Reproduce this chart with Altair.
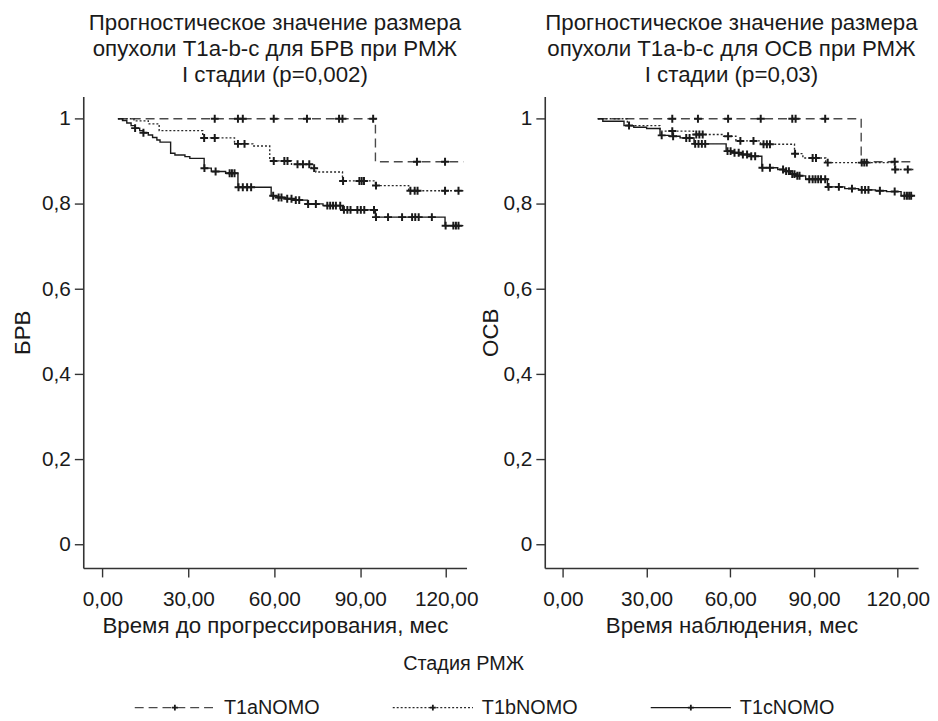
import altair as alt
import numpy as np
import pandas as pd

FONT = "Liberation Sans, Arial, Helvetica, sans-serif"
SERIES = ["T1aNOMO", "T1bNOMO", "T1cNOMO"]
X_TICKS = [0, 30, 60, 90, 120]
Y_TICKS = [0, 0.2, 0.4, 0.6, 0.8, 1.0]

# ---------- Left panel: БРВ (step times, survival after step, censor times) ----------
BRV_A_T = [5.4, 95.3, 126.0]
BRV_A_S = [1.0, 0.899, 0.899]
BRV_A_C = [39.2, 47.3, 49.0, 59.8, 71.4, 82.6, 83.8, 94.5, 109.8, 119.6]

BRV_B_T = [5.4, 11.0, 16.0, 19.8, 35.0, 46.1, 52.5, 58.4, 66.0, 73.0, 74.5, 83.8, 95.3, 106.9, 126.0]
BRV_B_S = [1.0, 0.995, 0.988, 0.972, 0.955, 0.941, 0.936, 0.901, 0.893, 0.884, 0.875, 0.854, 0.843, 0.831, 0.831]
BRV_B_C = [35.5, 39.2, 47.3, 49.6, 59.8, 63.5, 64.6, 68.1, 70.0, 72.2, 73.9, 84.0, 89.7, 90.5,
           91.3, 95.5, 107.5, 109.0, 110.0, 119.6, 124.3]

BRV_C_T = [5.4, 7.0, 8.5, 10.0, 11.4, 13.0, 14.3, 16.0, 17.5, 19.0, 20.1, 23.8, 25.3, 28.8, 30.5,
           35.5, 38.0, 43.0, 47.3, 58.9, 61.0, 64.0, 66.5, 71.6, 77.0, 83.8, 95.3, 119.6, 126.0]
BRV_C_S = [1.0, 0.996, 0.990, 0.984, 0.978, 0.972, 0.967, 0.962, 0.956, 0.950, 0.945, 0.919, 0.915,
           0.911, 0.907, 0.884, 0.876, 0.872, 0.839, 0.819, 0.815, 0.812, 0.809, 0.800, 0.796, 0.786,
           0.769, 0.749, 0.749]
BRV_C_C = [11.4, 14.3, 35.6, 39.5, 44.4, 45.2, 46.1, 47.5, 49.0, 50.5, 51.9, 59.6, 61.5, 62.5, 64.5,
           66.0, 67.5, 68.7, 71.8, 74.5, 78.5, 79.5, 80.5, 81.5, 83.0, 84.3, 85.5, 86.6, 89.0, 90.2,
           91.4, 94.8, 95.5, 99.7, 104.6, 108.1, 109.2, 110.4, 115.0, 119.8, 122.5, 123.4, 124.3]

# ---------- Right panel: ОСВ ----------
OSV_A_T = [12.5, 106.9, 125.6]
OSV_A_S = [1.0, 0.899, 0.899]
OSV_A_C = [39.2, 48.4, 59.2, 70.9, 82.2, 83.4, 94.0, 118.9]

OSV_B_T = [12.5, 23.1, 34.8, 46.8, 57.0, 62.0, 70.8, 83.0, 86.0, 94.2, 118.9, 125.6]
OSV_B_S = [1.0, 0.984, 0.971, 0.963, 0.959, 0.948, 0.940, 0.918, 0.908, 0.897, 0.881, 0.881]
OSV_B_C = [39.2, 47.8, 48.9, 50.1, 59.2, 63.6, 68.3, 71.9, 73.1, 74.2, 83.2, 89.5, 90.7, 94.9,
           107.1, 108.0, 108.9, 119.1, 123.6]

OSV_C_T = [12.5, 14.3, 21.9, 25.4, 30.0, 34.8, 38.0, 42.0, 47.0, 58.5, 61.0, 64.0, 67.0, 71.3, 77.0,
           79.0, 81.5, 83.5, 87.0, 94.8, 101.0, 106.0, 112.0, 116.0, 121.2, 125.6]
OSV_C_S = [1.0, 0.994, 0.984, 0.980, 0.977, 0.961, 0.959, 0.955, 0.941, 0.924, 0.920, 0.916, 0.912,
           0.885, 0.881, 0.877, 0.870, 0.866, 0.858, 0.840, 0.836, 0.833, 0.831, 0.829, 0.819, 0.819]
OSV_C_C = [23.7, 35.4, 39.5, 44.2, 45.4, 47.4, 48.6, 49.8, 51.0, 59.0, 60.1, 61.5, 63.0, 64.5, 66.0,
           67.5, 68.9, 71.5, 74.2, 78.9, 80.0, 81.0, 82.2, 83.0, 84.0, 84.8, 88.3, 89.5, 90.5, 91.5,
           92.5, 94.0, 95.2, 98.9, 103.6, 107.1, 108.3, 109.5, 113.6, 118.9, 122.4, 123.3, 124.1, 124.8]

TITLE_L = ["Прогностическое значение размера", "опухоли T1a-b-c для БРВ при РМЖ", "I стадии (p=0,002)"]
TITLE_R = ["Прогностическое значение размера", "опухоли T1a-b-c для ОСВ при РМЖ", "I стадии (p=0,03)"]
LEGEND_TITLE = "Стадия РМЖ"

PLUS = "M-1,0H1M0,-1V1"
DASHES = [[9, 5], [2, 2], [1, 0]]
COLORS = ["#4a4a4a", "#2a2a2a", "#1a1a1a"]
TXT = 22.5     # Cyrillic text size
LBL = 21       # tick label size


def km_frames(times_list, surv_list, cens_list):
    lines, cens = [], []
    for name, t, s, c in zip(SERIES, times_list, surv_list, cens_list):
        t = np.asarray(t, dtype=float)
        s = np.asarray(s, dtype=float)
        c = np.asarray(c, dtype=float)
        lines.append(pd.DataFrame({"series": name, "t": t, "s": s}))
        idx = np.searchsorted(t, c, side="right") - 1
        cens.append(pd.DataFrame({"series": name, "t": c, "s": s[idx]}))
    return pd.concat(lines, ignore_index=True), pd.concat(cens, ignore_index=True)


dash_enc = alt.StrokeDash("series:N", scale=alt.Scale(domain=SERIES, range=DASHES), legend=None)
col_enc = alt.Color("series:N", scale=alt.Scale(domain=SERIES, range=COLORS), legend=None)


def panel(lines, cens, title, ytitle, xtitle, xdomain, width, ytp):
    x = alt.X("t:Q", scale=alt.Scale(domain=xdomain, nice=False, zero=False),
              axis=alt.Axis(values=X_TICKS, title=xtitle, labelPadding=12, titlePadding=5,
                            labelExpr="replace(format(datum.value, '.2f'), '.', ',')"))
    y = alt.Y("s:Q", scale=alt.Scale(domain=[-0.055, 1.052], nice=False, zero=False),
              axis=alt.Axis(values=Y_TICKS, title=ytitle, titlePadding=ytp,
                            labelExpr="replace(format(datum.value, '.1~f'), '.', ',')"))
    line = alt.Chart(lines).mark_line(interpolate="step-after", strokeWidth=1.4).encode(
        x=x, y=y, strokeDash=dash_enc, color=col_enc)
    pts = alt.Chart(cens).mark_point(shape=PLUS, size=64, strokeWidth=2, color="#1a1a1a",
                                     filled=False, opacity=1).encode(x=x, y=y)
    return alt.layer(line, pts).properties(
        width=width, height=476,
        title=alt.TitleParams(text=title, anchor="middle", offset=10, fontSize=TXT,
                              fontWeight="normal", lineHeight=26.5))


l_lines, l_cens = km_frames([BRV_A_T, BRV_B_T, BRV_C_T], [BRV_A_S, BRV_B_S, BRV_C_S],
                            [BRV_A_C, BRV_B_C, BRV_C_C])
r_lines, r_cens = km_frames([OSV_A_T, OSV_B_T, OSV_C_T], [OSV_A_S, OSV_B_S, OSV_C_S],
                            [OSV_A_C, OSV_B_C, OSV_C_C])

left = panel(l_lines, l_cens, TITLE_L, "БРВ", "Время до прогрессирования, мес", [-6.7, 127.1], 387, 7)
right = panel(r_lines, r_cens, TITLE_R, "ОСВ", "Время наблюдения, мес", [-6.5, 127.3], 377, 1)

# ---------- manual legend (layout constants in pixels, relative to left plot edge) ----------
LEG_W = 768
LEG_X0 = 52
LEG_STEP = 260.5
SYM_W = 81
TXT_GAP = 9
leg = pd.DataFrame({"series": SERIES})
leg["i"] = np.arange(len(SERIES))
leg["x0"] = LEG_X0 + leg["i"] * LEG_STEP
leg["x1"] = leg["x0"] + SYM_W
leg["xm"] = leg["x0"] + SYM_W / 2
leg["xt"] = leg["x1"] + TXT_GAP
lx = alt.Scale(domain=[0, LEG_W], nice=False, zero=False)

leg_rule = alt.Chart(leg).mark_rule(strokeWidth=1.4).encode(
    x=alt.X("x0:Q", scale=lx, axis=None), x2="x1:Q", y=alt.value(6),
    strokeDash=dash_enc, color=col_enc)
leg_plus = alt.Chart(leg).mark_point(shape=PLUS, size=36, strokeWidth=1.8, color="#1a1a1a",
                                     filled=False, opacity=1).encode(
    x=alt.X("xm:Q", scale=lx, axis=None), y=alt.value(6))
leg_text = alt.Chart(leg).mark_text(align="left", baseline="middle", fontSize=20, color="#1a1a1a").encode(
    x=alt.X("xt:Q", scale=lx, axis=None), y=alt.value(6), text="series:N")
legend = alt.layer(leg_rule, leg_plus, leg_text).properties(
    width=LEG_W, height=12,
    title=alt.TitleParams(text=LEGEND_TITLE, anchor="middle", offset=24, fontSize=20, fontWeight="normal"))

chart = alt.vconcat(alt.hconcat(left, right, spacing=0), legend, spacing=17).properties(
    padding={"left": 3, "top": 0, "right": 0, "bottom": 0}
).configure(font=FONT).configure_axis(
    labelFontSize=LBL, titleFontSize=TXT, titleFontWeight="normal", labelColor="#1a1a1a",
    titleColor="#1a1a1a", domainColor="#333333", domainWidth=1.6, tickColor="#333333",
    tickWidth=1.4, tickSize=9, labelPadding=4, grid=False
).configure_view(stroke=None).configure_title(color="#1a1a1a", font=FONT)

chart.save("out.html", embed_options={"renderer": "svg", "actions": False})
